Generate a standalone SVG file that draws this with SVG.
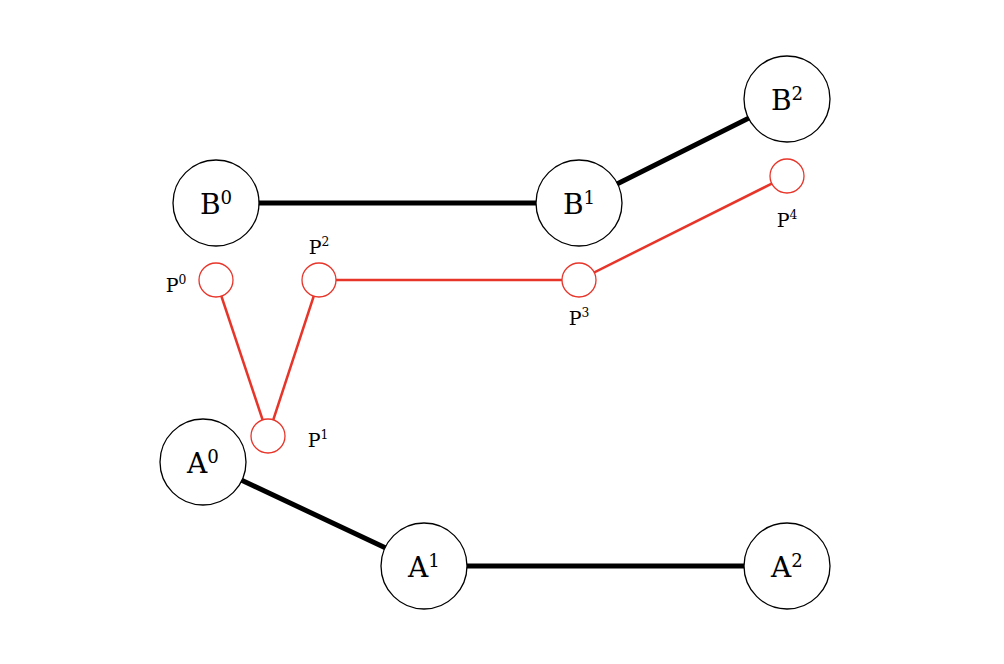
<svg xmlns="http://www.w3.org/2000/svg" width="1004" height="664" viewBox="0 0 1004 664">
<style>
.big{fill:#fff;stroke:#000;stroke-width:1.3}
.sm{fill:#fff;stroke:#e8352a;stroke-width:1.3}
.bl{stroke:#000;stroke-width:5;fill:none}
.rl{stroke:#e8352a;stroke-width:2.5;fill:none}
.t{font-family:"DejaVu Serif","Liberation Serif",serif;font-size:28px;text-anchor:middle;fill:#000}
.s{font-family:"DejaVu Serif","Liberation Serif",serif;font-size:19px;text-anchor:middle;fill:#000}
.sup{font-size:0.65em}
</style>
<rect width="1004" height="664" fill="#fff"/>
<g id="connectors">
<line class="bl" x1="216" y1="203" x2="579" y2="203"/>
<line class="bl" x1="579" y1="203" x2="787" y2="99"/>
<line class="bl" x1="203" y1="462" x2="424" y2="566"/>
<line class="bl" x1="424" y1="566" x2="787" y2="566"/>
<polyline class="rl" points="216,280 268,436 319,280 579,280 787,176"/>
</g>
<g id="B0"><circle class="big" cx="216" cy="203" r="43"/><text class="t" x="216" y="214">B<tspan class="sup" dy="-10">0</tspan></text></g>
<g id="B1"><circle class="big" cx="579" cy="203" r="43"/><text class="t" x="579" y="214">B<tspan class="sup" dy="-10">1</tspan></text></g>
<g id="B2"><circle class="big" cx="787" cy="99" r="43"/><text class="t" x="787" y="110">B<tspan class="sup" dy="-10">2</tspan></text></g>
<g id="A0"><circle class="big" cx="203" cy="462" r="43"/><text class="t" x="203" y="473">A<tspan class="sup" dy="-10">0</tspan></text></g>
<g id="A1"><circle class="big" cx="424" cy="566" r="43"/><text class="t" x="424" y="577">A<tspan class="sup" dy="-10">1</tspan></text></g>
<g id="A2"><circle class="big" cx="787" cy="566" r="43"/><text class="t" x="787" y="577">A<tspan class="sup" dy="-10">2</tspan></text></g>
<g id="P0"><circle class="sm" cx="216" cy="280" r="17"/><text class="s" x="176" y="292">P<tspan class="sup" dy="-8">0</tspan></text></g>
<g id="P1"><circle class="sm" cx="268" cy="436" r="17"/><text class="s" x="318" y="447">P<tspan class="sup" dy="-8">1</tspan></text></g>
<g id="P2"><circle class="sm" cx="319" cy="280" r="17"/><text class="s" x="319" y="254">P<tspan class="sup" dy="-8">2</tspan></text></g>
<g id="P3"><circle class="sm" cx="579" cy="280" r="17"/><text class="s" x="579" y="325">P<tspan class="sup" dy="-8">3</tspan></text></g>
<g id="P4"><circle class="sm" cx="787" cy="176" r="17"/><text class="s" x="787" y="227">P<tspan class="sup" dy="-8">4</tspan></text></g>
</svg>
